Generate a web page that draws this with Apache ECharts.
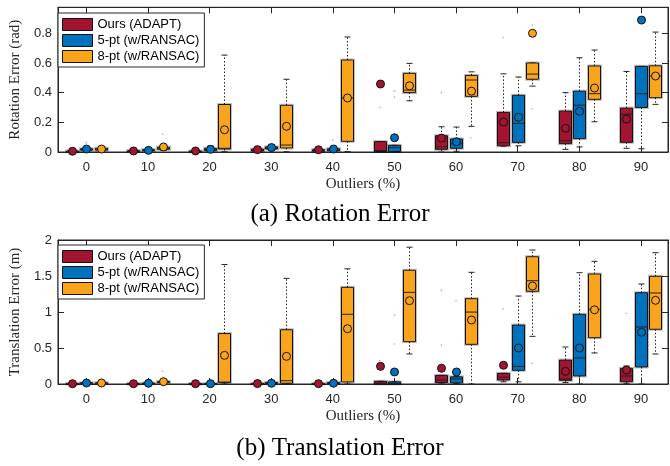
<!DOCTYPE html>
<html><head><meta charset="utf-8">
<script src="https://cdn.jsdelivr.net/npm/echarts@6/dist/echarts.min.js"></script>
<style>html,body{margin:0;padding:0;background:#fff}#c{width:670px;height:466px}</style>
</head><body><div id="c"></div><script>
// ---- data ----
const outlierPct = [0, 10, 20, 30, 40, 50, 60, 70, 80, 90];
const methodNames = ['Ours (ADAPT)', '5-pt (w/RANSAC)', '8-pt (w/RANSAC)'];
const rotYTicks = [0, 0.2, 0.4, 0.6, 0.8];
const transYTicks = [0, 0.5, 1, 1.5, 2];
// each row: [lowWhisker, q1, median, q3, highWhisker, mean]
const rotOurs = [
  [0, 0.002, 0.004, 0.007, 0.012, 0.005],
  [0, 0.003, 0.005, 0.009, 0.015, 0.007],
  [0, 0.002, 0.004, 0.007, 0.012, 0.007],
  [0, 0.006, 0.012, 0.020, 0.035, 0.016],
  [0, 0.005, 0.010, 0.016, 0.030, 0.015],
  [0, 0.003, 0.010, 0.070, 0.070, 0.458],
  [0, 0.018, 0.036, 0.110, 0.170, 0.094],
  [0.040, 0.042, 0.063, 0.267, 0.527, 0.202],
  [0.018, 0.056, 0.076, 0.276, 0.400, 0.160],
  [0.025, 0.065, 0.254, 0.296, 0.543, 0.222]
];
const rotFive = [
  [0.003, 0.012, 0.016, 0.022, 0.035, 0.020],
  [0.003, 0.008, 0.011, 0.016, 0.030, 0.011],
  [0.002, 0.010, 0.015, 0.025, 0.040, 0.018],
  [0.010, 0.020, 0.026, 0.035, 0.050, 0.030],
  [0.002, 0.008, 0.015, 0.022, 0.035, 0.020],
  [0, 0.003, 0.030, 0.045, 0.045, 0.096],
  [0.005, 0.025, 0.055, 0.088, 0.168, 0.069],
  [0.042, 0.065, 0.193, 0.382, 0.505, 0.234],
  [0.034, 0.090, 0.315, 0.410, 0.635, 0.274],
  [0.022, 0.300, 0.393, 0.577, 0.577, 0.889]
];
const rotEight = [
  [0.005, 0.012, 0.018, 0.025, 0.035, 0.020],
  [0.010, 0.018, 0.025, 0.033, 0.045, 0.034],
  [0.002, 0.020, 0.025, 0.320, 0.653, 0.150],
  [0.002, 0.027, 0.047, 0.315, 0.490, 0.173],
  [0.003, 0.072, 0.364, 0.620, 0.775, 0.364],
  [0.345, 0.400, 0.417, 0.530, 0.597, 0.446],
  [0.173, 0.375, 0.485, 0.516, 0.540, 0.410],
  [0.444, 0.490, 0.525, 0.600, 0.600, 0.800],
  [0.204, 0.355, 0.393, 0.580, 0.687, 0.431],
  [0.321, 0.366, 0.512, 0.581, 0.808, 0.512]
];
const transOurs = [
  [0, 0.001, 0.003, 0.006, 0.010, 0.004],
  [0, 0.001, 0.003, 0.006, 0.010, 0.004],
  [0, 0.001, 0.003, 0.006, 0.010, 0.004],
  [0, 0.002, 0.004, 0.008, 0.012, 0.006],
  [0, 0.002, 0.004, 0.007, 0.012, 0.005],
  [0, 0.002, 0.010, 0.037, 0.037, 0.245],
  [0, 0.020, 0.055, 0.120, 0.120, 0.218],
  [0.030, 0.055, 0.093, 0.148, 0.148, 0.260],
  [0.020, 0.051, 0.070, 0.333, 0.514, 0.176],
  [0.010, 0.032, 0.111, 0.218, 0.250, 0.194]
];
const transFive = [
  [0.003, 0.008, 0.012, 0.018, 0.040, 0.014],
  [0.002, 0.006, 0.009, 0.014, 0.030, 0.010],
  [0.001, 0.003, 0.005, 0.008, 0.015, 0.004],
  [0.003, 0.007, 0.012, 0.020, 0.045, 0.010],
  [0.003, 0.008, 0.014, 0.022, 0.045, 0.010],
  [0, 0.003, 0.010, 0.030, 0.030, 0.167],
  [0.005, 0.015, 0.070, 0.100, 0.100, 0.167],
  [0.030, 0.190, 0.245, 0.819, 1.222, 0.500],
  [0, 0.111, 0.361, 0.968, 1.546, 0.500],
  [0, 0.236, 0.792, 1.268, 1.389, 0.718]
];
const transEight = [
  [0.003, 0.008, 0.012, 0.018, 0.030, 0.014],
  [0.010, 0.020, 0.025, 0.035, 0.050, 0.032],
  [0, 0.023, 0.025, 0.700, 1.660, 0.398],
  [0, 0.010, 0.046, 0.754, 1.467, 0.384],
  [0, 0.028, 0.968, 1.343, 1.600, 0.768],
  [0.417, 0.588, 1.273, 1.580, 1.900, 1.157],
  [0, 0.551, 0.999, 1.185, 1.551, 0.889],
  [0.662, 1.287, 1.435, 1.768, 1.861, 1.361],
  [0.431, 0.643, 1.037, 1.528, 1.704, 1.030],
  [0.417, 0.760, 1.264, 1.496, 1.824, 1.162]
];
// outlier points: [outlier %, value]
const rotOursOut = [[50, 0.30], [60, 0.40], [70, 0.77]];
const rotFiveOut = [[0, 0.063], [40, 0.083], [50, 0.37], [50, 0.41]];
const rotEightOut = [[10, 0.119], [60, 0.096], [70, 0.855], [70, 0.29]];
const transOursOut = [[50, 0.324], [60, 1.30], [60, 0.54], [70, 1.04], [90, 0.98]];
const transFiveOut = [[50, 0.96], [50, 0.555], [60, 1.16]];
const transEightOut = [[10, 0.176], [70, 0.287]];

// ---- styling ----
const colors = ['#A2142F', '#0072BD', '#F9A41B'];
const offsets = [-2.37, 0, 2.37];
const axisColor = '#262626';

function boxRender(offset, color) {
  return function (params, api) {
    const p = api.value(0);
    const xc = Math.round(api.coord([p + offset, 0])[0]) + 0.5;
    const Y = i => api.coord([p, api.value(i)])[1];
    const lo = Y(1), q1 = Y(2), med = Y(3), q3 = Y(4), hi = Y(5), mean = Y(6);
    const hw = 6, cw = 3;
    const dash = { stroke: '#222', lineWidth: 1, lineDash: [1.5, 2], fill: null };
    const solid = { stroke: '#222', lineWidth: 1, fill: null };
    return {
      type: 'group', children: [
        { type: 'line', shape: { x1: xc, y1: q3, x2: xc, y2: hi }, style: dash },
        { type: 'line', shape: { x1: xc, y1: q1, x2: xc, y2: lo }, style: dash },
        { type: 'line', shape: { x1: xc - cw, y1: hi, x2: xc + cw, y2: hi }, style: solid },
        { type: 'line', shape: { x1: xc - cw, y1: lo, x2: xc + cw, y2: lo }, style: solid },
        { type: 'rect', shape: { x: xc - hw - 1, y: q3 - 1, width: 2 * hw + 2, height: q1 - q3 + 2 }, style: { fill: null, stroke: 'rgba(0,0,0,0.25)', lineWidth: 1 } },
        { type: 'rect', shape: { x: xc - hw, y: q3, width: 2 * hw, height: Math.max(q1 - q3, 1) }, style: { fill: color, stroke: '#111', lineWidth: 1 } },
        { type: 'line', shape: { x1: xc - hw, y1: med, x2: xc + hw, y2: med }, style: solid },
        { type: 'circle', shape: { cx: xc, cy: mean, r: 4 }, style: { fill: color, stroke: '#111', lineWidth: 1 } }
      ]
    };
  };
}
function outRender(offset) {
  return function (params, api) {
    const c = api.coord([api.value(0) + offset, api.value(1)]);
    return { type: 'circle', shape: { cx: c[0], cy: c[1], r: 0.8 }, style: { fill: '#aaa' } };
  };
}

const grids = [
  { left: 50.7, top: 7.3, width: 617.3, height: 144.7, show: true, borderColor: axisColor, borderWidth: 1 },
  { left: 50.7, top: 240, width: 617.3, height: 144, show: true, borderColor: axisColor, borderWidth: 1 }
];
function xAx(g, pos) {
  return {
    type: 'value', gridIndex: g, position: pos, min: -4.6, max: 94.4,
    axisLine: { show: true, onZero: false, lineStyle: { color: axisColor } },
    axisTick: { show: true, inside: true, length: 6, customValues: outlierPct, lineStyle: { color: axisColor } },
    axisLabel: { show: pos === 'bottom', customValues: outlierPct, color: axisColor, fontSize: 13, fontFamily: 'Liberation Sans', margin: 9 },
    splitLine: { show: false },
    name: pos === 'bottom' ? 'Outliers (%)' : '', nameLocation: 'middle', nameGap: 25,
    nameTextStyle: { fontFamily: 'Liberation Serif', fontSize: 15, color: axisColor }
  };
}
function yAx(g, pos, max, ticks, name) {
  return {
    type: 'value', gridIndex: g, position: pos, min: 0, max: max,
    axisLine: { show: true, onZero: false, lineStyle: { color: axisColor } },
    axisTick: { show: true, inside: true, length: 6, customValues: ticks, lineStyle: { color: axisColor } },
    axisLabel: { show: pos === 'left', customValues: ticks, color: axisColor, fontSize: 13, fontFamily: 'Liberation Sans', margin: 6 },
    splitLine: { show: false },
    name: pos === 'left' ? name : '', nameLocation: 'middle', nameGap: 28,
    nameTextStyle: { fontFamily: 'Liberation Serif', fontSize: 15, color: axisColor }
  };
}

const series = [];
const sets = [[rotOurs, rotFive, rotEight], [transOurs, transFive, transEight]];
const outs = [[rotOursOut, rotFiveOut, rotEightOut], [transOursOut, transFiveOut, transEightOut]];
[0, 1].forEach(g => {
  sets[g].forEach((rows, m) => {
    series.push({
      type: 'custom', name: methodNames[m], xAxisIndex: g * 2, yAxisIndex: g * 2,
      renderItem: boxRender(offsets[m], colors[m]),
      encode: { x: 0, y: [1, 2, 3, 4, 5, 6] },
      itemStyle: { color: colors[m] },
      data: outlierPct.map((p, i) => [p].concat(rows[i])), z: 3
    });
    series.push({
      type: 'custom', name: methodNames[m] + ' outliers', xAxisIndex: g * 2, yAxisIndex: g * 2,
      renderItem: outRender(offsets[m]), encode: { x: 0, y: 1 },
      data: outs[g][m], z: 2
    });
  });
});

function legend(top) {
  return {
    left: 58, top: top, orient: 'vertical', itemWidth: 30, itemHeight: 12, itemGap: 3,
    padding: [5, 5, 4, 4], borderColor: axisColor, borderWidth: 1, backgroundColor: '#fff',
    selectedMode: false,
    textStyle: { fontFamily: 'Liberation Sans', fontSize: 13, color: '#000' },
    data: methodNames.map((n, i) => ({ name: n, icon: 'rect', itemStyle: { color: colors[i], borderColor: '#111', borderWidth: 1 } }))
  };
}

const chart = echarts.init(document.getElementById('c'), null, { renderer: 'canvas' });
chart.setOption({
  animation: false,
  backgroundColor: '#fff',
  grid: grids,
  xAxis: [xAx(0, 'bottom'), xAx(0, 'top'), xAx(1, 'bottom'), xAx(1, 'top')],
  yAxis: [yAx(0, 'left', 0.975, rotYTicks, 'Rotation Error (rad)'), yAx(0, 'right', 0.975, rotYTicks, ''),
          yAx(1, 'left', 2, transYTicks, 'Translation Error (m)'), yAx(1, 'right', 2, transYTicks, '')],
  legend: [legend(13), legend(245)],
  graphic: [
    { type: 'text', x: 340, y: 214, style: { text: '(a) Rotation Error', font: '25px "Liberation Serif"', fill: '#000', textAlign: 'center', textVerticalAlign: 'middle' } },
    { type: 'text', x: 340, y: 448, style: { text: '(b) Translation Error', font: '25px "Liberation Serif"', fill: '#000', textAlign: 'center', textVerticalAlign: 'middle' } }
  ],
  series: series
});
</script></body></html>
